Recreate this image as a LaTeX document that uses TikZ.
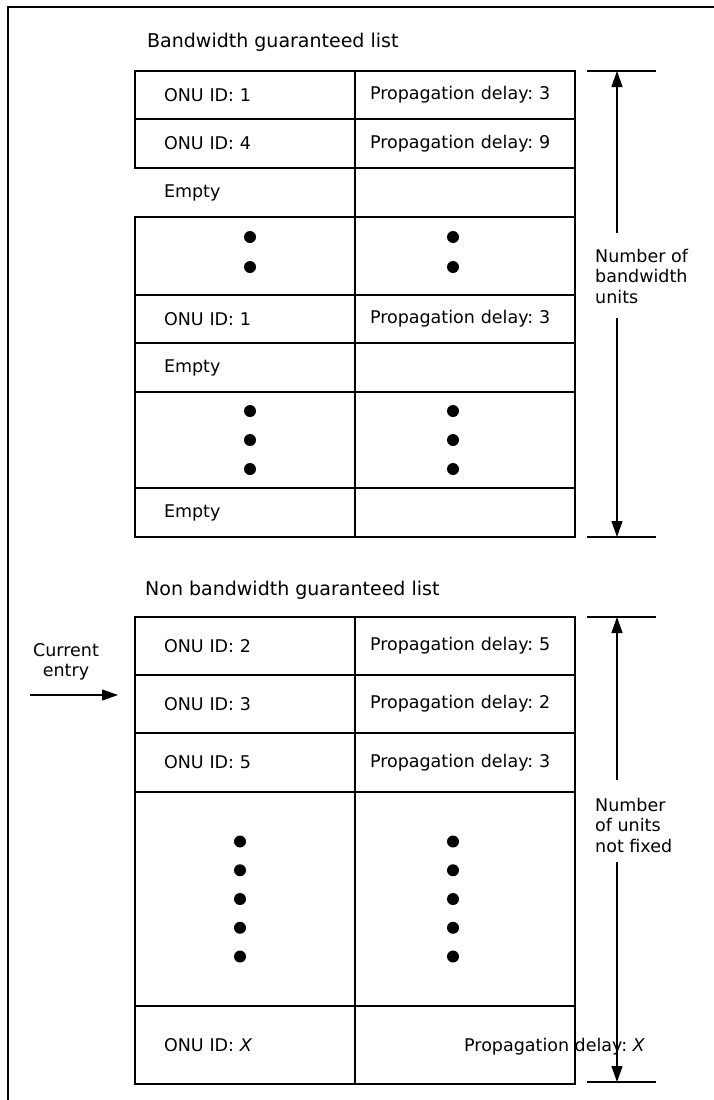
\documentclass[tikz,border=0pt]{standalone}
\usepackage{fontspec}
\setmainfont{DejaVu Sans}
\frenchspacing
\usetikzlibrary{positioning,arrows.meta}

\tikzset{
  cell/.style={draw,line width=1.4pt,rectangle,inner ysep=0pt,outer sep=0pt,minimum width=220pt,minimum height=#1,align=left},
  idcell/.style={cell=#1,inner xsep=29pt,text width=162pt},
  dlcell/.style={cell=#1,inner xsep=15pt,text width=190pt},
  dimtick/.style={line width=1.3pt},
  dimarrow/.style={line width=1.1pt,-{Triangle[length=16pt,width=11pt]}},
  lbl/.style={align=left,inner sep=0pt,font=\fontsize{17.5}{20.5}\selectfont},
  ttl/.style={anchor=west,inner sep=0pt,font=\fontsize{19}{21}\selectfont}
}

\begin{document}
\begin{tikzpicture}[x=1pt,y=-1pt,font=\fontsize{17.5}{20}\selectfont]
\useasboundingbox (0,0) rectangle (714,1100);
% frame
\draw[line width=1.5pt] (714,7) -- (8,7) -- (8,1100);

% bandwidth guaranteed list
\node[ttl] (gtitle) at (147,42) {Bandwidth guaranteed list};
\node[idcell=48,anchor=north west] (g1) at (135,71) {ONU ID: 1};
\node[dlcell=48,right=0pt of g1] (g1d) {Propagation delay: 3};
\node[idcell=49,below=0pt of g1] (g2) {ONU ID: 4};
\node[dlcell=49,right=0pt of g2] (g2d) {Propagation delay: 9};
\node[idcell=49,draw=none,below=0pt of g2] (g3) {Empty};
\node[dlcell=49,right=0pt of g3] (g3d) {};
\node[idcell=78,below=0pt of g3] (g4) {};
\node[dlcell=78,right=0pt of g4] (g4d) {};
\node[idcell=48,below=0pt of g4] (g5) {ONU ID: 1};
\node[dlcell=48,right=0pt of g5] (g5d) {Propagation delay: 3};
\node[idcell=49,below=0pt of g5] (g6) {Empty};
\node[dlcell=49,right=0pt of g6] (g6d) {};
\node[idcell=96,below=0pt of g6] (g7) {};
\node[dlcell=96,right=0pt of g7] (g7d) {};
\node[idcell=49,below=0pt of g7] (g8) {Empty};
\node[dlcell=49,right=0pt of g8] (g8d) {};

\foreach \dy in {19,-11} {
  \fill ([xshift=5pt,yshift=\dy pt]g4.center) circle (6pt);
  \fill ([xshift=-12pt,yshift=\dy pt]g4d.center) circle (6pt);
}
\foreach \dy in {29,0,-29} {
  \fill ([xshift=5pt,yshift=\dy pt]g7.center) circle (6pt);
  \fill ([xshift=-12pt,yshift=\dy pt]g7d.center) circle (6pt);
}

% number of bandwidth units
\coordinate (gt) at (617,71);
\coordinate (gb) at (617,537);
\coordinate (ga1) at (617,233);
\coordinate (ga2) at (617,318);
\draw[dimtick] (587,71) -- (656,71);
\draw[dimtick] (587,537) -- (656,537);
\node[lbl,anchor=west] (gnum) at (595,276) {Number of\\bandwidth\\units};
\draw[dimarrow] (ga1) -- (gt);
\draw[dimarrow] (ga2) -- (gb);

% non bandwidth guaranteed list
\node[ttl] (ntitle) at (145,590) {Non bandwidth guaranteed list};
\node[idcell=58,anchor=north west] (n1) at (135,617) {ONU ID: 2};
\node[dlcell=58,right=0pt of n1] (n1d) {Propagation delay: 5};
\node[idcell=58,below=0pt of n1] (n2) {ONU ID: 3};
\node[dlcell=58,right=0pt of n2] (n2d) {Propagation delay: 2};
\node[idcell=59,below=0pt of n2] (n3) {ONU ID: 5};
\node[dlcell=59,right=0pt of n3] (n3d) {Propagation delay: 3};
\node[idcell=214,below=0pt of n3] (n4) {};
\node[dlcell=214,right=0pt of n4] (n4d) {};
\node[idcell=78,below=0pt of n4] (n5) {ONU ID: \textit{X}};
\node[dlcell=78,right=0pt of n5] (n5d) {};
\node[anchor=west,inner sep=0pt] (pdx) at (464,1047) {Propagation delay: \textit{X}};

\foreach \dy in {57.5,28.75,0,-28.75,-57.5} {
  \fill ([xshift=-5pt,yshift=\dy pt]n4.center) circle (6pt);
  \fill ([xshift=-12pt,yshift=\dy pt]n4d.center) circle (6pt);
}

% number of units not fixed
\coordinate (nt) at (617,617);
\coordinate (nb) at (617,1082);
\coordinate (na1) at (617,780);
\coordinate (na2) at (617,862);
\draw[dimtick] (587,617) -- (656,617);
\draw[dimtick] (587,1082) -- (656,1082);
\node[lbl,anchor=west] (nnum) at (595,825) {Number\\of units\\not fixed};
\draw[dimarrow] (na1) -- (nt);
\draw[dimarrow] (na2) -- (nb);

% current entry
\node[lbl,align=center] (cur) at (66,662) {Current\\entry};
\coordinate (cs) at (30,695);
\coordinate (ce) at (118,695);
\draw[dimarrow] (cs) -- (ce);
\end{tikzpicture}
\end{document}
